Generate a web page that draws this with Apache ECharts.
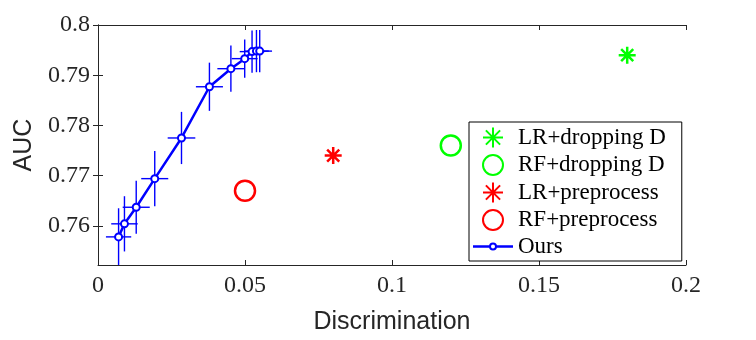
<!DOCTYPE html>
<html style="height: 100%">
<head>
<meta charset="utf-8">
</head>
<body style="height: 100%; margin: 0; background: #fff">
<div id="container" style="width: 756px; height: 340px"></div>
<script type="text/javascript" src="https://cdn.jsdelivr.net/npm/echarts@6/dist/echarts.min.js"></script>
<script type="text/javascript">
// our method: mean point and half widths of the error bars
var oursX = [0.007, 0.009, 0.013, 0.0193, 0.0284, 0.0379, 0.0452, 0.0499, 0.0524, 0.0539, 0.055];
var oursY = [0.7578, 0.7604, 0.7637, 0.7694, 0.7775, 0.7877, 0.7913, 0.7933, 0.7947, 0.7948, 0.7948];
var oursXErr = [0.0043, 0.0045, 0.0046, 0.0046, 0.0047, 0.0046, 0.0046, 0.0044, 0.0042, 0.0042, 0.0042];
var oursYErr = [0.0057, 0.0055, 0.0053, 0.0055, 0.0052, 0.0048, 0.0046, 0.0038, 0.0042, 0.0042, 0.0042];

// baselines [discrimination, auc]
var lrDropping = [0.18, 0.794];
var rfDropping = [0.12, 0.776];
var lrPreprocess = [0.08, 0.774];
var rfPreprocess = [0.05, 0.767];

var xTicks = [0, 0.05, 0.1, 0.15, 0.2];
var yTicks = [0.76, 0.77, 0.78, 0.79, 0.8];

var axisColor = '#262626';
var star = 'path://M10,0L10,20M0,10L20,10M2.9,2.9L17.1,17.1M2.9,17.1L17.1,2.9';
// legend icon for "Ours": line with a small ring marker
var lineMarkIcon = 'path://M0,8.8L16.2,8.8L16.2,11.2L0,11.2Z' +
    'M23.8,8.8L40,8.8L40,11.2L23.8,11.2Z' +
    'M16,10A4,4 0 1,1 24,10A4,4 0 1,1 16,10Z' +
    'M18,10A2,2 0 1,0 22,10A2,2 0 1,0 18,10Z';

var oursData = oursX.map(function (x, i) { return [x, oursY[i]]; });
var errData = oursX.map(function (x, i) { return [x, oursY[i], oursXErr[i], oursYErr[i]]; });

function renderErr(params, api) {
    var x = api.value(0), y = api.value(1), dx = api.value(2), dy = api.value(3);
    var l = api.coord([x - dx, y]), r = api.coord([x + dx, y]);
    var t = api.coord([x, y + dy]), b = api.coord([x, y - dy]);
    var st = { stroke: '#0000ff', lineWidth: 1.4 };
    return {
        type: 'group',
        children: [
            { type: 'line', shape: { x1: l[0], y1: l[1], x2: r[0], y2: r[1] }, style: st },
            { type: 'line', shape: { x1: t[0], y1: t[1], x2: b[0], y2: b[1] }, style: st }
        ]
    };
}

var dom = document.getElementById('container');
var myChart = echarts.init(dom, null, { renderer: 'canvas' });

var tickStyle = { inside: true, length: 5, lineStyle: { color: axisColor } };
var option = {
    animation: false,
    backgroundColor: '#fff',
    grid: { left: 98, right: 70, top: 25, bottom: 72 },
    legend: {
        orient: 'vertical',
        left: 469,
        top: 122,
        padding: [3, 16, 3, 4],
        itemWidth: 40,
        itemHeight: 20,
        itemGap: 2.5,
        borderColor: '#000',
        borderWidth: 1,
        backgroundColor: '#fff',
        textStyle: { fontFamily: 'Liberation Serif', fontSize: 23, color: '#000' },
        data: ['LR+dropping D', 'RF+dropping D', 'LR+preprocess', 'RF+preprocess',
            { name: 'Ours', icon: lineMarkIcon, itemStyle: { color: '#0000ff', borderWidth: 0 } }]
    },
    xAxis: [{
        type: 'value',
        min: 0, max: 0.2, interval: 0.05,
        name: 'Discrimination',
        nameLocation: 'middle',
        nameGap: 45,
        nameTextStyle: { fontFamily: 'Liberation Sans', fontSize: 25, color: axisColor },
        axisLine: { lineStyle: { color: axisColor } },
        axisTick: tickStyle,
        splitLine: { show: false },
        axisLabel: {
            margin: 9,
            fontFamily: 'Liberation Serif', fontSize: 24, color: axisColor,
            customValues: xTicks
        }
    }, {
        type: 'value', position: 'top',
        min: 0, max: 0.2, interval: 0.05,
        axisLine: { lineStyle: { color: axisColor } },
        axisTick: tickStyle,
        axisLabel: { show: false },
        splitLine: { show: false }
    }],
    yAxis: [{
        type: 'value',
        min: 0.7522, max: 0.8,
        name: 'AUC',
        nameLocation: 'middle',
        nameGap: 56,
        nameTextStyle: { fontFamily: 'Liberation Sans', fontSize: 25, color: axisColor },
        axisLine: { show: true, lineStyle: { color: axisColor } },
        axisTick: { inside: true, length: 5, lineStyle: { color: axisColor }, customValues: yTicks },
        splitLine: { show: false },
        axisLabel: {
            margin: 8,
            fontFamily: 'Liberation Serif', fontSize: 24, color: axisColor,
            customValues: yTicks
        }
    }, {
        type: 'value', position: 'right',
        min: 0.7522, max: 0.8,
        axisLine: { show: true, lineStyle: { color: axisColor } },
        axisTick: { inside: true, length: 5, lineStyle: { color: axisColor }, customValues: yTicks },
        axisLabel: { show: false },
        splitLine: { show: false }
    }],
    series: [{
        name: 'LR+dropping D',
        type: 'scatter',
        data: [lrDropping],
        symbol: star,
        symbolSize: 17,
        symbolKeepAspect: true,
        itemStyle: { color: 'none', borderColor: '#00ff00', borderWidth: 2.5, opacity: 1 }
    }, {
        name: 'RF+dropping D',
        type: 'scatter',
        data: [rfDropping],
        symbol: 'circle',
        symbolSize: 20,
        symbolKeepAspect: true,
        itemStyle: { color: 'none', borderColor: '#00ff00', borderWidth: 2.5, opacity: 1 }
    }, {
        name: 'LR+preprocess',
        type: 'scatter',
        data: [lrPreprocess],
        symbol: star,
        symbolSize: 17,
        symbolKeepAspect: true,
        itemStyle: { color: 'none', borderColor: '#ff0000', borderWidth: 2.5, opacity: 1 }
    }, {
        name: 'RF+preprocess',
        type: 'scatter',
        data: [rfPreprocess],
        symbol: 'circle',
        symbolSize: 20,
        symbolKeepAspect: true,
        itemStyle: { color: 'none', borderColor: '#ff0000', borderWidth: 2.5, opacity: 1 }
    }, {
        name: 'Ours',
        type: 'line',
        data: oursData,
        symbol: 'emptyCircle',
        symbolSize: 7,
        symbolKeepAspect: true,
        showAllSymbol: true,
        lineStyle: { color: '#0000ff', width: 2.5 },
        itemStyle: { color: '#0000ff', borderColor: '#0000ff', borderWidth: 2 },
        z: 3
    }, {
        name: 'Ours error',
        type: 'custom',
        data: errData,
        renderItem: renderErr,
        clip: true,
        z: 2
    }]
};

if (option && typeof option === "object") {
    myChart.setOption(option, true);
}
</script>
</body>
</html>
